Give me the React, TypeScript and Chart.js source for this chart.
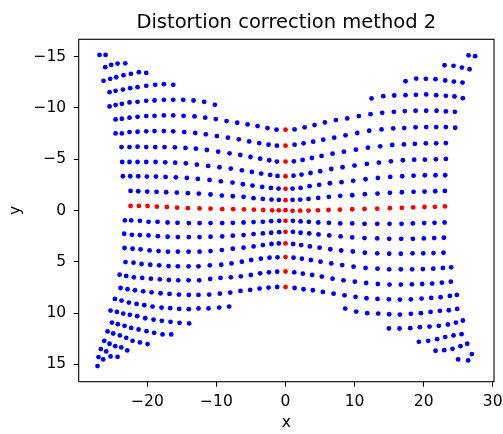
import { useEffect, useRef } from "react";
import { Chart, registerables } from "chart.js";

Chart.register(...registerables);

const chartTitle = "Distortion correction method 2";
const xLabel = "x";
const yLabel = "y";
const xTicks = [-20, -10, 0, 10, 20, 30];
const yTicks = [-15, -10, -5, 0, 5, 10, 15];

// Blue grid points, upper-left quadrant (row by row, top to bottom)
const upperLeftX = [
  -26.93, -26.06,
  -26.11, -25.24, -24.32, -23.21,
  -26.35, -25.39, -24.52, -23.46, -22.39, -21.24, -20.17,
  -25.48, -24.61, -23.55, -22.49, -21.43, -20.17, -18.87, -17.62, -16.26,
  -25.48, -24.61, -23.7, -22.59, -21.43, -20.17, -18.97, -17.62, -16.26, -14.82, -13.32, -11.78, -10.23,
  -24.61, -23.7, -22.59, -21.43, -20.17, -18.97, -17.62, -16.26, -14.77, -13.18, -11.63, -10.09, -8.54, -7.0, -5.5, -4.05, -2.61, -1.3,
  -24.61, -23.7, -22.59, -21.43, -20.17, -18.97, -17.62, -16.26, -14.67, -13.08, -11.54, -9.94, -8.35, -6.76, -5.26, -3.81, -2.46, -1.25,
  -23.75, -22.59, -21.43, -20.17, -18.87, -17.52, -16.02, -14.48, -12.98, -11.39, -9.75, -8.11, -6.56, -5.07, -3.67, -2.36, -1.25,
  -23.65, -22.59, -21.43, -20.17, -18.82, -17.42, -15.98, -14.43, -12.84, -11.2, -9.56, -7.92, -6.32, -4.87, -3.52, -2.22, -1.16,
  -23.55, -22.49, -21.33, -20.08, -18.77, -17.37, -15.88, -14.29, -12.7, -11.0, -9.36, -7.67, -6.18, -4.78, -3.38, -2.12, -1.01,
  -22.44, -21.33, -20.03, -18.68, -17.28, -15.73, -14.14, -12.55, -10.86, -9.22, -7.63, -6.08, -4.63, -3.28, -2.03, -0.97,
];
const upperLeftY = [
  -15.18, -15.18,
  -13.98, -14.2, -14.33, -14.36,
  -12.65, -12.84, -13.0, -13.2, -13.33, -13.49, -13.42,
  -11.54, -11.67, -11.8, -11.93, -12.03, -12.16, -12.26, -12.32, -12.26,
  -10.15, -10.28, -10.41, -10.54, -10.6, -10.7, -10.73, -10.8, -10.8, -10.8, -10.73, -10.6, -10.31,
  -8.88, -8.95, -9.05, -9.14, -9.21, -9.24, -9.27, -9.27, -9.24, -9.18, -9.05, -8.92, -8.72, -8.56, -8.4, -8.24, -8.04, -7.88,
  -7.52, -7.52, -7.65, -7.68, -7.72, -7.75, -7.75, -7.72, -7.65, -7.56, -7.43, -7.26, -7.1, -6.94, -6.74, -6.58, -6.42, -6.32,
  -6.19, -6.19, -6.23, -6.19, -6.19, -6.19, -6.16, -6.1, -6.03, -5.9, -5.74, -5.58, -5.42, -5.22, -5.06, -4.9, -4.77,
  -4.73, -4.73, -4.73, -4.73, -4.73, -4.7, -4.67, -4.6, -4.47, -4.35, -4.22, -4.09, -3.92, -3.76, -3.6, -3.47, -3.37,
  -3.34, -3.34, -3.34, -3.31, -3.31, -3.28, -3.24, -3.18, -3.08, -2.98, -2.85, -2.72, -2.56, -2.43, -2.3, -2.2, -2.14,
  -1.91, -1.88, -1.85, -1.82, -1.78, -1.75, -1.69, -1.65, -1.56, -1.46, -1.39, -1.33, -1.2, -1.13, -1.07, -1.04,
];

// Blue grid points, upper-right quadrant
const upperRightX = [
  26.5, 27.46,
  23.03, 24.33, 25.54, 26.65,
  17.38, 18.92, 20.32, 21.72, 23.12, 24.38, 25.63,
  12.46, 14.15, 15.74, 17.38, 18.88, 20.37, 21.82, 23.22, 24.47, 25.68,
  1.31, 2.76, 4.2, 5.7, 7.29, 8.93, 10.62, 12.31, 14.0, 15.69, 17.28, 18.83, 20.37, 21.87, 23.22, 24.52,
  1.31, 2.61, 4.01, 5.46, 7.05, 8.69, 10.38, 12.12, 13.9, 15.59, 17.19, 18.83, 20.37, 21.82, 23.22, 24.57,
  1.21, 2.47, 3.82, 5.22, 6.81, 8.45, 10.19, 11.93, 13.71, 15.45, 17.14, 18.73, 20.32, 21.82, 23.22,
  1.16, 2.32, 3.62, 5.02, 6.62, 8.26, 9.99, 11.78, 13.52, 15.26, 16.99, 18.63, 20.18, 21.77, 23.22,
  1.02, 2.18, 3.48, 4.88, 6.42, 8.11, 9.8, 11.59, 13.37, 15.16, 16.9, 18.54, 20.18, 21.72, 23.12,
  1.02, 2.13, 3.33, 4.73, 6.28, 7.92, 9.66, 11.49, 13.32, 15.11, 16.85, 18.54, 20.13, 21.68, 23.08,
];
const upperRightY = [
  -15.14, -15.05,
  -14.17, -14.11, -13.94, -13.78,
  -12.61, -12.87, -12.84, -12.81, -12.68, -12.58, -12.48,
  -10.93, -11.15, -11.22, -11.25, -11.28, -11.32, -11.25, -11.19, -11.12, -10.96,
  -7.91, -8.11, -8.33, -8.59, -8.82, -8.98, -9.21, -9.4, -9.53, -9.63, -9.7, -9.73, -9.73, -9.73, -9.66, -9.63,
  -6.42, -6.55, -6.71, -6.91, -7.1, -7.33, -7.56, -7.78, -7.91, -8.01, -8.04, -8.11, -8.14, -8.14, -8.14, -8.07,
  -4.8, -4.93, -5.12, -5.32, -5.54, -5.74, -5.93, -6.13, -6.26, -6.39, -6.45, -6.49, -6.55, -6.55, -6.58,
  -3.4, -3.5, -3.66, -3.83, -4.05, -4.22, -4.38, -4.54, -4.67, -4.8, -4.9, -4.96, -4.96, -4.99, -5.03,
  -2.14, -2.2, -2.37, -2.5, -2.66, -2.76, -2.89, -3.05, -3.18, -3.28, -3.34, -3.4, -3.44, -3.44, -3.44,
  -1.04, -1.07, -1.13, -1.23, -1.33, -1.43, -1.49, -1.59, -1.65, -1.72, -1.78, -1.82, -1.85, -1.88, -1.91,
];

// Blue grid points, lower-left quadrant
const lowerLeftX = [
  -23.26, -22.35, -21.09, -19.84, -18.53, -17.08, -15.64, -14.0, -12.45, -10.86, -9.17, -7.63, -6.08, -4.63, -3.28, -2.08, -0.92,
  -23.36, -22.25, -21.09, -19.84, -18.48, -17.08, -15.59, -14.0, -12.45, -10.86, -9.17, -7.63, -6.08, -4.63, -3.28, -2.08, -0.92,
  -23.31, -22.15, -20.99, -19.69, -18.39, -17.03, -15.59, -14.04, -12.45, -10.86, -9.22, -7.63, -6.08, -4.63, -3.28, -2.03, -0.97,
  -23.17, -22.01, -20.85, -19.59, -18.29, -16.94, -15.59, -14.04, -12.6, -10.96, -9.31, -7.82, -6.32, -4.97, -3.57, -2.32, -1.16,
  -24.03, -23.07, -21.96, -20.75, -19.5, -18.2, -16.89, -15.54, -14.04, -12.5, -10.91, -9.41, -7.92, -6.47, -5.02, -3.67, -2.41, -1.21,
  -23.89, -22.88, -21.81, -20.61, -19.4, -18.1, -16.8, -15.44, -14.0, -12.6, -11.05, -9.51, -8.01, -6.52, -5.12, -3.76, -2.46, -1.21,
  -24.71, -23.75, -22.68, -21.57, -20.46, -19.26, -17.95, -16.7, -15.4, -14.0, -12.6, -11.15, -9.6, -8.16,
  -25.34, -24.42, -23.5, -22.54, -21.48, -20.32, -19.11, -17.91, -16.65, -15.35, -13.95,
  -25.14, -24.28, -23.31, -22.35, -21.28, -20.13, -19.02, -17.81, -16.55,
  -25.77, -24.95, -23.99, -23.07, -22.15, -21.09, -19.98,
  -26.25, -25.48, -24.66, -23.79, -22.92,
  -26.74, -25.97,
  -27.08, -26.4, -25.34, -24.32,
  -27.22,
];
const lowerLeftY = [
  0.97, 0.97, 1.01, 1.1, 1.1, 1.17, 1.2, 1.23, 1.23, 1.23, 1.23, 1.2, 1.17, 1.13, 1.1, 1.04, 1.01,
  2.27, 2.37, 2.4, 2.43, 2.5, 2.56, 2.59, 2.59, 2.59, 2.56, 2.53, 2.46, 2.4, 2.3, 2.24, 2.17, 2.11,
  3.66, 3.73, 3.79, 3.89, 3.96, 4.02, 4.02, 4.02, 4.02, 3.96, 3.86, 3.73, 3.63, 3.5, 3.37, 3.27, 3.21,
  5.03, 5.09, 5.22, 5.29, 5.35, 5.42, 5.45, 5.45, 5.45, 5.35, 5.29, 5.16, 5.0, 4.83, 4.7, 4.6, 4.57,
  6.26, 6.39, 6.52, 6.58, 6.65, 6.71, 6.78, 6.81, 6.81, 6.81, 6.68, 6.58, 6.52, 6.42, 6.29, 6.13, 6.03, 5.97,
  7.56, 7.68, 7.78, 7.88, 7.98, 8.07, 8.14, 8.2, 8.24, 8.24, 8.2, 8.11, 8.01, 7.85, 7.75, 7.62, 7.52, 7.46,
  8.63, 8.79, 8.98, 9.11, 9.24, 9.37, 9.47, 9.53, 9.6, 9.63, 9.55, 9.55, 9.47, 9.37,
  9.76, 9.89, 10.05, 10.18, 10.31, 10.51, 10.64, 10.76, 10.86, 10.96, 11.02,
  10.93, 11.09, 11.25, 11.45, 11.61, 11.77, 11.93, 12.09, 12.09,
  11.8, 12.0, 12.19, 12.42, 12.71, 12.87, 13.03,
  12.71, 13.0, 13.23, 13.36, 13.65,
  13.52, 13.75,
  14.3, 14.53, 14.23, 14.27,
  15.18,
];

// Blue grid points, lower-right quadrant
const lowerRightX = [
  1.07, 2.18, 3.38, 4.74, 6.28, 7.92, 9.66, 11.44, 13.28, 15.06, 16.8, 18.44, 20.08, 21.58, 23.03,
  1.07, 2.18, 3.43, 4.78, 6.33, 7.97, 9.66, 11.44, 13.28, 15.01, 16.75, 18.44, 20.03, 21.53, 22.93,
  1.11, 2.27, 3.53, 4.93, 6.48, 8.06, 9.75, 11.49, 13.28, 15.01, 16.7, 18.39, 19.94, 21.43, 22.88,
  1.16, 2.37, 3.67, 5.07, 6.62, 8.21, 9.85, 11.59, 13.32, 15.01, 16.7, 18.34, 19.89, 21.39, 22.79, 23.99,
  1.26, 2.51, 3.86, 5.26, 6.81, 8.4, 10.04, 11.68, 13.37, 15.06, 16.7, 18.3, 19.79, 21.24, 22.64, 23.94,
  1.31, 2.61, 3.96, 5.41, 6.96, 8.55, 10.14, 11.73, 13.32, 14.97, 16.56, 18.15, 19.7, 21.1, 22.45, 23.8, 24.81,
  8.64, 10.24, 11.83, 13.42, 15.01, 16.56, 18.15, 19.6, 21.0, 22.35, 23.65, 24.86,
  14.97, 16.51, 18.06, 19.45, 20.85, 22.2, 23.51, 24.67, 25.68,
  19.31, 20.66, 21.96, 23.12, 24.33, 25.49,
  21.72, 22.98, 24.18, 25.34, 26.31,
  25.0, 26.45, 26.98,
];
const lowerRightY = [
  1.01, 1.07, 1.1, 1.17, 1.2, 1.26, 1.26, 1.3, 1.3, 1.3, 1.3, 1.26, 1.23, 1.2, 1.17,
  2.08, 2.17, 2.24, 2.33, 2.43, 2.53, 2.63, 2.69, 2.72, 2.76, 2.76, 2.76, 2.72, 2.69, 2.66,
  3.27, 3.37, 3.5, 3.63, 3.78, 3.9, 4.0, 4.12, 4.18, 4.22, 4.22, 4.18, 4.18, 4.15, 4.12,
  4.6, 4.7, 4.83, 4.99, 5.16, 5.32, 5.48, 5.61, 5.67, 5.74, 5.74, 5.74, 5.71, 5.67, 5.61, 5.54,
  6.03, 6.16, 6.29, 6.45, 6.65, 6.81, 6.94, 7.07, 7.17, 7.23, 7.23, 7.2, 7.17, 7.13, 7.04, 6.94,
  7.56, 7.68, 7.78, 7.94, 8.11, 8.27, 8.43, 8.56, 8.63, 8.66, 8.69, 8.66, 8.59, 8.53, 8.46, 8.33, 8.24,
  9.57, 9.86, 10.02, 10.05, 10.12, 10.15, 10.08, 10.02, 9.89, 9.79, 9.73, 9.6,
  11.51, 11.51, 11.48, 11.38, 11.32, 11.25, 11.12, 10.93, 10.73,
  12.81, 12.71, 12.55, 12.35, 12.19, 12.06,
  13.68, 13.62, 13.49, 13.23, 13.0,
  14.53, 14.62, 14.01,
];

// Red reference points: the central column (x = 0) and the central row
const midColumnY = [-7.88, -6.32, -4.77, -3.34, -2.11, -1.01, -0.03, 1.01, 2.08, 3.21, 4.54, 5.95, 7.46];
const midColumnX = midColumnY.map(() => 0);
const midRowX = [
  -22.44, -21.24, -19.98, -18.63, -17.18, -15.69, -14.14, -12.45, -10.86, -9.17, -7.58, -6.03, -4.58, -3.23, -1.93, -0.97,
  1.02, 2.13, 3.33, 4.69, 6.23, 7.87, 9.66, 11.44, 13.28, 15.11, 16.85, 18.49, 20.13, 21.63, 23.08,
];
const midRowY = [
  -0.44, -0.45, -0.44, -0.37, -0.34, -0.28, -0.23, -0.2, -0.18, -0.13, -0.13, -0.1, -0.08, -0.05, -0.02, -0.02,
  0.03, 0.02, 0.01, -0.02, -0.05, -0.08, -0.12, -0.15, -0.18, -0.23, -0.26, -0.3, -0.34, -0.36, -0.4,
];

const xRange = [-29.95, 30.19];
const yRange = [-16.7, 16.7];

const zip = (xs: number[], ys: number[]) => xs.map((x, i) => ({ x, y: ys[i] }));

const fontFamily = "'DejaVu Sans', sans-serif";
const minus = (v: number | string) => String(v).replace("-", "\u2212");

// Closed box around the plotting area
const frameBox = {
  id: "frameBox",
  afterDraw(chart: Chart) {
    const { ctx, chartArea } = chart;
    ctx.save();
    ctx.strokeStyle = "#000";
    ctx.lineWidth = 1.1;
    ctx.strokeRect(chartArea.left, chartArea.top, chartArea.right - chartArea.left, chartArea.bottom - chartArea.top);
    ctx.restore();
  },
};

export default function App() {
  const canvasRef = useRef<HTMLCanvasElement>(null);

  useEffect(() => {
    const canvas = canvasRef.current;
    if (!canvas) return;
    const blue = [
      ...zip(upperLeftX, upperLeftY),
      ...zip(upperRightX, upperRightY),
      ...zip(lowerLeftX, lowerLeftY),
      ...zip(lowerRightX, lowerRightY),
    ];
    const red = [...zip(midColumnX, midColumnY), ...zip(midRowX, midRowY)];

    const chart = new Chart(canvas, {
      type: "scatter",
      data: {
        datasets: [
          { data: red, backgroundColor: "#ff0000", pointRadius: 2.4, pointBorderWidth: 0, pointHoverRadius: 2.4 },
          { data: blue, backgroundColor: "#0000ff", pointRadius: 2.4, pointBorderWidth: 0, pointHoverRadius: 2.4 },
        ],
      },
      options: {
        animation: false,
        responsive: false,
        devicePixelRatio: 1,
        events: [],
        layout: { padding: { left: 0, right: 9, top: 0, bottom: 0 } },
        plugins: {
          legend: { display: false },
          tooltip: { enabled: false },
          title: {
            display: true,
            fullSize: false,
            text: chartTitle,
            color: "#000",
            font: { family: fontFamily, size: 19.5, weight: "normal" },
            padding: { top: 11.6, bottom: 4.3 },
          },
        },
        scales: {
          x: {
            type: "linear",
            min: xRange[0],
            max: xRange[1],
            afterBuildTicks: (s: any) => {
              s.ticks = xTicks.map((value) => ({ value }));
            },
            afterFit: (s: any) => {
              s.height = 52.3;
              s.paddingLeft = 0;
              s.paddingRight = 0;
            },
            ticks: {
              color: "#000",
              font: { family: fontFamily, size: 15.5 },
              padding: 6.3,
              maxRotation: 0,
              autoSkip: false,
              callback: (v: any) => minus(v),
            },
            grid: { display: true, drawOnChartArea: false, drawTicks: true, tickLength: 5, tickColor: "#000", tickWidth: 1 },
            border: { display: false },
            title: {
              display: true,
              text: xLabel,
              color: "#000",
              font: { family: fontFamily, size: 15.5 },
              padding: { top: 0, bottom: 1.5 },
            },
          },
          y: {
            type: "linear",
            reverse: true,
            min: yRange[0],
            max: yRange[1],
            afterBuildTicks: (s: any) => {
              s.ticks = yTicks.map((value) => ({ value }));
            },
            afterFit: (s: any) => {
              s.width = 78.7;
              s.paddingTop = 0;
              s.paddingBottom = 0;
            },
            ticks: {
              color: "#000",
              font: { family: fontFamily, size: 15.5 },
              padding: 7.5,
              autoSkip: false,
              callback: (v: any) => minus(v),
            },
            grid: { display: true, drawOnChartArea: false, drawTicks: true, tickLength: 5, tickColor: "#000", tickWidth: 1 },
            border: { display: false },
            title: {
              display: true,
              text: yLabel,
              color: "#000",
              font: { family: fontFamily, size: 15.5 },
              padding: { top: 6.2, bottom: 0 },
            },
          },
        },
      },
      plugins: [frameBox],
    });
    return () => chart.destroy();
  }, []);

  return (
    <div style={{ position: "fixed", left: 0, top: 0, width: 503, height: 434, background: "#fff" }}>
      <canvas ref={canvasRef} width={503} height={434} style={{ display: "block", width: 503, height: 434 }} />
    </div>
  );
}
